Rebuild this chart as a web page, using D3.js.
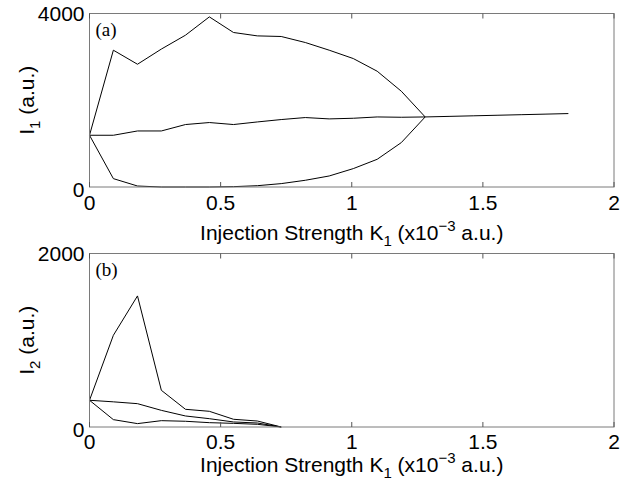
<!DOCTYPE html>
<html>
<head>
<meta charset="utf-8">
<script src="https://cdn.jsdelivr.net/npm/d3@7"></script>
<style>
  html, body { margin: 0; padding: 0; background: #fff; }
  svg { display: block; }
  text { font-family: "Liberation Sans", Arial, Helvetica, sans-serif; fill: #000; }
  .panel-label { font-family: "Liberation Serif", "Times New Roman", serif; }
</style>
</head>
<body>
<svg id="chart" width="632" height="482"></svg>
<script>
// ---- data ----
const kValues = [0, 0.091, 0.183, 0.274, 0.366, 0.457, 0.549, 0.640, 0.731, 0.823, 0.914,
                 1.006, 1.097, 1.189, 1.280, 1.371, 1.463, 1.554, 1.646, 1.737, 1.826];
const xTicks = [0, 0.5, 1, 1.5, 2];

// panel (a): I1
const i1Upper  = [1193, 3154, 2830, 3180, 3500, 3922, 3562, 3484, 3470, 3331, 3154, 2961, 2669, 2208, 1615];
const i1Middle = [1193, 1193, 1292, 1292, 1440, 1486, 1440, 1500, 1555, 1601, 1570, 1585, 1615, 1608, 1615,
                  1628, 1641, 1654, 1667, 1680, 1693];
const i1Lower  = [1193, 193, 23, 0, 0, 0, 8, 30, 78, 155, 254, 424, 639, 1024, 1615];
const i1Ticks  = [0, 4000];

// panel (b): I2
const i2Upper  = [308, 1057, 1511, 423, 204, 181, 89, 69, 0];
const i2Middle = [308, 290, 269, 192, 127, 96, 58, 46, 0];
const i2Lower  = [308, 85, 39, 73, 66, 50, 42, 31, 0];
const i2Ticks  = [0, 2000];

// ---- layout ----
const svg = d3.select("#chart");
const left = 89.5, right = 614;
const x = d3.scaleLinear().domain([0, 2]).range([left, right]);

const panels = [
  { top: 13.5, bottom: 187, ymax: 4000, yTicks: i1Ticks, series: [i1Upper, i1Middle, i1Lower],
    label: "(a)", ySub: "1", tickBase: 23, titleBase: 239.5 },
  { top: 253.5, bottom: 427, ymax: 2000, yTicks: i2Ticks, series: [i2Upper, i2Middle, i2Lower],
    label: "(b)", ySub: "2", tickBase: 21.5, titleBase: 472 }
];

panels.forEach(p => {
  const y = d3.scaleLinear().domain([0, p.ymax]).range([p.bottom, p.top]);
  const g = svg.append("g");

  // data lines
  const line = d3.line().x((d, i) => x(kValues[i])).y(d => y(d));
  p.series.forEach(s => {
    g.append("path").datum(s).attr("d", line)
      .attr("fill", "none").attr("stroke", "#000").attr("stroke-width", 1)
      .attr("stroke-linejoin", "miter");
  });

  // box
  g.append("rect").attr("x", left).attr("y", p.top)
    .attr("width", right - left).attr("height", p.bottom - p.top)
    .attr("fill", "none").attr("stroke", "#7a7a7a").attr("stroke-width", 1);

  // x ticks (inward, top and bottom)
  const tl = 5;
  xTicks.forEach(t => {
    g.append("line").attr("x1", x(t)).attr("x2", x(t)).attr("y1", p.bottom).attr("y2", p.bottom - tl)
      .attr("stroke", "#555").attr("stroke-width", 1);
    g.append("line").attr("x1", x(t)).attr("x2", x(t)).attr("y1", p.top).attr("y2", p.top + tl)
      .attr("stroke", "#555").attr("stroke-width", 1);
    g.append("text").attr("x", x(t)).attr("y", p.bottom + p.tickBase)
      .attr("text-anchor", "middle").attr("font-size", 21).text(d3.format("")(t));
  });

  // y tick labels
  p.yTicks.forEach((t, i) => {
    g.append("text").attr("x", left - 5).attr("y", y(t) + (i === 0 ? 9.5 : 7.5))
      .attr("text-anchor", "end").attr("font-size", 21).text(t);
  });

  // x title
  const xt = g.append("text").attr("x", (left + right) / 2).attr("y", p.titleBase)
    .attr("text-anchor", "middle").attr("font-size", 21);
  xt.append("tspan").text("Injection Strength K");
  xt.append("tspan").attr("font-size", 15).attr("dy", 6).text("1");
  xt.append("tspan").attr("dy", -6).text(" (x10");
  xt.append("tspan").attr("font-size", 15).attr("dy", -9).text("\u22123");
  xt.append("tspan").attr("dy", 9).text(" a.u.)");

  // y title
  const cy = (p.top + p.bottom) / 2;
  const yt = g.append("text").attr("transform", `translate(34,${cy}) rotate(-90)`)
    .attr("text-anchor", "middle").attr("font-size", 21);
  yt.append("tspan").text("I");
  yt.append("tspan").attr("font-size", 15).attr("dy", 6).text(p.ySub);
  yt.append("tspan").attr("dy", -6).text(" (a.u.)");

  // panel label
  g.append("text").attr("class", "panel-label").attr("x", left + 6).attr("y", p.top + 22)
    .attr("font-size", 19).text(p.label);
});
</script>
</body>
</html>
